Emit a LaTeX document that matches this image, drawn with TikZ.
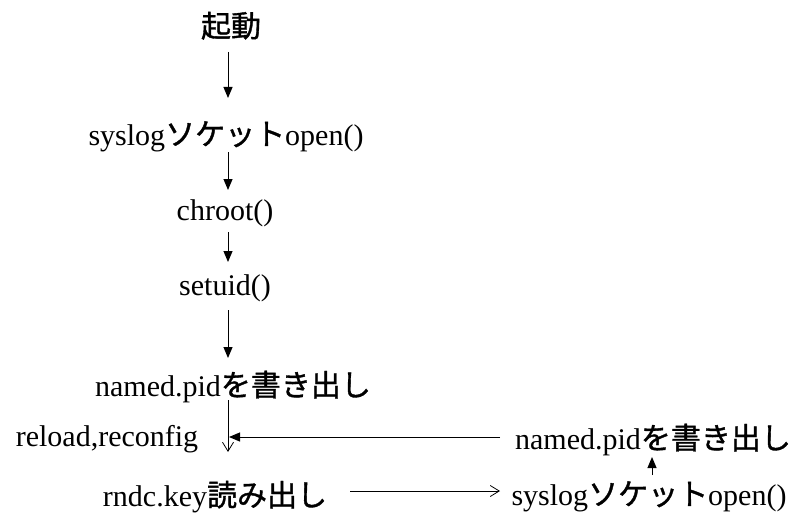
\documentclass[tikz,border=0pt]{standalone}
\usepackage{fontspec}
\setmainfont{Liberation Serif}
\newfontfamily\jp[FakeBold=1.2]{Noto Sans CJK JP}
\newcommand{\J}[1]{{\jp #1}}
\usetikzlibrary{arrows.meta}
\begin{document}
\begin{tikzpicture}[x=1pt,y=-1pt,
  txt/.style={anchor=base,inner sep=0pt,font=\fontsize{30}{36}\selectfont},
  fl/.style={-{Triangle[length=11pt,width=9pt]},line width=1pt},
  op/.style={-{Straight Barb[length=9pt,width=11pt,line width=0.8pt]},line width=0.8pt}]
\useasboundingbox (0,0) rectangle (794,524);
% texts
\node[txt] (start) at (231,37) {\J{起動}};
\node[txt] (sys1) at (226,145) {syslog\J{ソケット}open()};
\node[txt] (chroot) at (225,220) {chroot()};
\node[txt] (setuid) at (225,295) {setuid()};
\node[txt] (pid1) at (233,396) {named.pid\J{を書き出し}};
\node[txt] (reload) at (107,446) {reload,reconfig};
\node[txt] (rndc) at (215,506) {rndc.key\J{読み出し}};
\node[txt] (pid2) at (653,449) {named.pid\J{を書き出し}};
\node[txt] (sys2) at (649,505) {syslog\J{ソケット}open()};
% connector ends
\coordinate (a1s) at (228,52);  \coordinate (a1e) at (228,98);
\coordinate (a2s) at (228,152); \coordinate (a2e) at (228,190);
\coordinate (a3s) at (228,232); \coordinate (a3e) at (228,262);
\coordinate (a4s) at (228,310); \coordinate (a4e) at (228,358);
\coordinate (a5s) at (228,400); \coordinate (a5e) at (228,452);
\coordinate (a6s) at (500,437); \coordinate (a6e) at (229,437);
\coordinate (a7s) at (350,491); \coordinate (a7e) at (500,491);
\coordinate (a8s) at (652,475); \coordinate (a8e) at (652,457);
% connectors
\draw[fl] (a1s) -- (a1e);
\draw[fl] (a2s) -- (a2e);
\draw[fl] (a3s) -- (a3e);
\draw[fl] (a4s) -- (a4e);
\draw[op] (a5s) -- (a5e);
\draw[fl] (a6s) -- (a6e);
\draw[op] (a7s) -- (a7e);
\draw[fl] (a8s) -- (a8e);
\end{tikzpicture}
\end{document}
